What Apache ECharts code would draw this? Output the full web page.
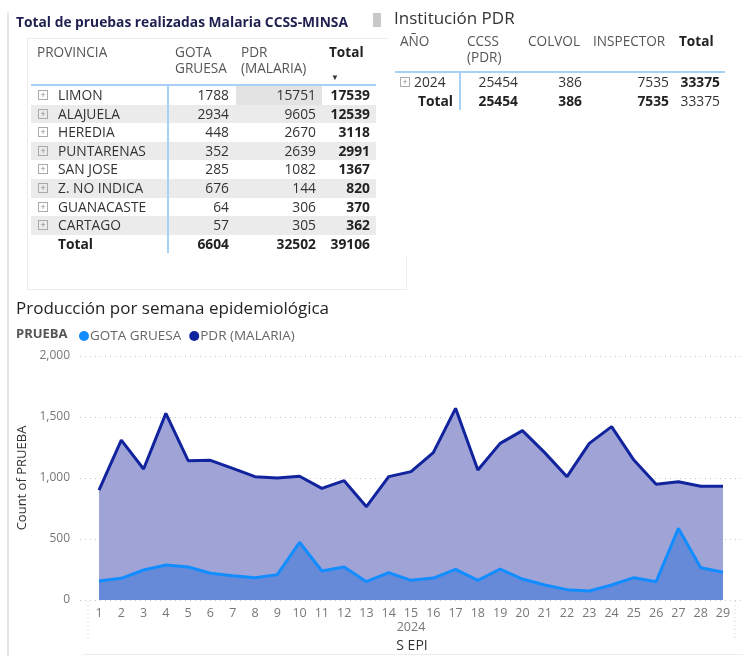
<!DOCTYPE html>
<html>
<head>
<meta charset="utf-8">
<script src="https://cdn.jsdelivr.net/npm/echarts@6/dist/echarts.min.js"></script>
<style>
  body { margin: 0; background: #fff; font-family: 'Open Sans', sans-serif; }
  #page { position: relative; width: 743px; height: 656px; overflow: hidden; }
  #chart { position: absolute; left: 0; top: 0; width: 743px; height: 656px; }
  .abs { position: absolute; white-space: nowrap; }
  .cell { position: absolute; font-size: 13.8px; color: #333; line-height: 18.6px; white-space: nowrap; }
  .r { text-align: right; }
  .b { font-weight: bold; color: #222; }
  .hdr { position: absolute; font-size: 13.6px; color: #555; line-height: 16px; white-space: nowrap; }
  .icon { position: absolute; width: 8px; height: 8px; border: 1px solid #aaa; color: #888;
          font-size: 9px; line-height: 8px; text-align: center; }
</style>
</head>
<body>
<div id="page">
  <div id="chart"></div>
  <div id="tables"></div>
</div>
<script>
// ---- tabla provincias
const provincias = ['LIMON', 'ALAJUELA', 'HEREDIA', 'PUNTARENAS', 'SAN JOSE', 'Z. NO INDICA', 'GUANACASTE', 'CARTAGO'];
const gotaProv = [1788, 2934, 448, 352, 285, 676, 64, 57];
const pdrProv = [15751, 9605, 2670, 2639, 1082, 144, 306, 305];
const totalProv = [17539, 12539, 3118, 2991, 1367, 820, 370, 362];
const totalesProv = [6604, 32502, 39106];

// ---- tabla institucion
const anios = ['2024'];
const instCols = ['CCSS (PDR)', 'COLVOL', 'INSPECTOR'];
const instValores = [25454, 386, 7535];
const instTotal = 33375;

// ---- grafico semanal
const semanas = [1,2,3,4,5,6,7,8,9,10,11,12,13,14,15,16,17,18,19,20,21,22,23,24,25,26,27,28,29];
const gotaGruesa = [156,178,246,287,270,219,199,183,208,473,238,270,150,224,161,180,251,161,254,172,123,85,74,123,183,150,587,265,227];
const pdrMalaria = [901,1311,1074,1530,1142,1145,1079,1011,1000,1014,915,978,765,1011,1052,1208,1571,1066,1284,1388,1208,1011,1284,1421,1147,948,970,932,932];
const yTicks = [0, 500, 1000, 1500, 2000];

const t = document.getElementById('tables');
let html = '';
function box(x, y, w, h, style) {
  html += `<div class="abs" style="left:${x}px;top:${y}px;width:${w}px;height:${h}px;${style}"></div>`;
}
function txt(x, y, s, cls, extra) {
  html += `<div class="${cls}" style="left:${x}px;top:${y}px;${extra || ''}">${s}</div>`;
}
function rtxt(right, y, s, cls) {
  html += `<div class="${cls} r" style="left:${right - 80}px;width:80px;top:${y}px;">${s}</div>`;
}
function icon(x, y) {
  html += `<div class="icon" style="left:${x}px;top:${y}px;">+</div>`;
}

// borde panel izquierdo
box(7, 12, 2, 644, 'background:#e6e6e6;');
box(83, 654, 660, 1, 'background:#ececec;');
// tarjeta tabla
box(27, 38, 380, 252, 'border:1px solid #ececec;box-sizing:border-box;');
txt(16, 13, 'Total de pruebas realizadas Malaria CCSS-MINSA', 'abs',
  'font-size:13.8px;font-weight:bold;color:#1f2050;line-height:18px;');

// encabezado izq
txt(37, 44, 'PROVINCIA', 'hdr');
txt(175, 44, 'GOTA<br>GRUESA', 'hdr');
txt(241, 44, 'PDR<br>(MALARIA)', 'hdr');
txt(329, 44, 'Total', 'hdr', 'font-weight:bold;color:#222;');
txt(331, 71, '&#9660;', 'abs', 'font-size:8px;color:#333;');
box(31, 84, 345, 2, 'background:#a9d1f5;');

const rowH = 18.6;
provincias.forEach((p, i) => {
  const y = 86 + i * rowH;
  if (i % 2 === 1) box(31, y, 345, rowH, 'background:#ebebeb;');
  if (i === 0) box(236, y, 86, rowH, 'background:#e3e3e3;');
  icon(38, y + 4);
  txt(58, y, p, 'cell');
  rtxt(229, y, gotaProv[i], 'cell');
  rtxt(316, y, pdrProv[i], 'cell');
  rtxt(370, y, totalProv[i], 'cell b');
});
const ty = 86 + provincias.length * rowH;
txt(58, ty, 'Total', 'cell b');
rtxt(229, ty, totalesProv[0], 'cell b');
rtxt(316, ty, totalesProv[1], 'cell b');
rtxt(370, ty, totalesProv[2], 'cell b');
box(167, 85, 2, ty + rowH - 85, 'background:#a9d1f5;');

// panel derecho
box(388, 0, 355, 257, 'background:#fff;');
box(373, 13, 8, 14, 'background:#c8c8c8;');
txt(394, 7, 'Institución PDR', 'abs', 'font-size:17px;color:#333;line-height:22px;');
txt(400, 33, 'AÑO', 'hdr');
txt(467, 33, 'CCSS<br>(PDR)', 'hdr');
txt(528, 33, 'COLVOL', 'hdr');
txt(593, 33, 'INSPECTOR', 'hdr');
txt(679, 33, 'Total', 'hdr', 'font-weight:bold;color:#222;');
box(395, 71, 330, 2, 'background:#a9d1f5;');
const instRight = [518, 582, 669];
anios.forEach((a, i) => {
  const y = 73 + i * rowH;
  icon(400, y + 4);
  txt(414, y, a, 'cell');
  instValores.forEach((v, j) => rtxt(instRight[j], y, v, 'cell'));
  rtxt(720, y, instTotal, 'cell b');
});
const iy = 73 + anios.length * rowH;
rtxt(453, iy, 'Total', 'cell b');
instValores.forEach((v, j) => rtxt(instRight[j], iy, v, 'cell b'));
rtxt(720, iy, instTotal, 'cell');
box(459, 72, 2, iy + rowH - 72, 'background:#a9d1f5;');

t.innerHTML = html;

// ---- chart
const chart = echarts.init(document.getElementById('chart'));
const toPairs = (vals) => semanas.map((w, i) => [w, vals[i]]);

chart.setOption({
  animation: false,
  textStyle: { fontFamily: 'Open Sans' },
  title: {
    text: 'Producción por semana epidemiológica',
    left: 11, top: 296,
    textStyle: { fontSize: 17, fontWeight: 'normal', color: '#252423' }
  },
  legend: {
    left: 74, top: 324,
    icon: 'circle', itemWidth: 10, itemHeight: 10, itemGap: 8,
    data: ['GOTA GRUESA', 'PDR (MALARIA)'],
    textStyle: { color: '#666', fontSize: 13.5, padding: [0, 0, 0, -4] }
  },
  grid: { left: 80, right: 0, top: 356, bottom: 56 },
  xAxis: {
    type: 'value',
    min: 0.147, max: 29.897,
    axisLine: { show: false },
    axisTick: { show: false },
    splitLine: { show: false },
    axisLabel: { customValues: semanas, color: '#777', fontSize: 12.5, margin: 7 }
  },
  yAxis: {
    type: 'value',
    min: yTicks[0], max: yTicks[yTicks.length - 1], interval: 500,
    axisLine: { show: false },
    axisTick: { show: false },
    axisLabel: { color: '#777', fontSize: 12, margin: 10 },
    splitLine: { lineStyle: { type: [1, 4], color: '#c8c8c8' } },
    name: 'Count of PRUEBA',
    nameLocation: 'middle', nameGap: 51,
    nameTextStyle: { color: '#333', fontSize: 13 }
  },
  series: [
    {
      name: 'PDR (MALARIA)', type: 'line', data: toPairs(pdrMalaria),
      symbol: 'none', color: '#12239e',
      lineStyle: { width: 3, color: '#12239e' },
      areaStyle: { color: '#9fa3d6', opacity: 1 },
      z: 2
    },
    {
      name: 'GOTA GRUESA', type: 'line', data: toPairs(gotaGruesa),
      symbol: 'none', color: '#118dff',
      lineStyle: { width: 3, color: '#118dff' },
      areaStyle: { color: '#6689d8', opacity: 1 },
      z: 3
    }
  ],
  graphic: [
    { type: 'text', left: 16, top: 328, style: { text: 'PRUEBA', fontSize: 13, fontWeight: 'bold', fill: '#555', fontFamily: 'Open Sans' } },
    { type: 'text', x: 411, y: 627, style: { text: '2024', fontSize: 12.5, fill: '#777', align: 'center', verticalAlign: 'middle', fontFamily: 'Open Sans' } },
    { type: 'text', x: 412, y: 646, style: { text: 'S EPI', fontSize: 14, fill: '#333', align: 'center', verticalAlign: 'middle', fontFamily: 'Open Sans' } },
    { type: 'line', shape: { x1: 88, y1: 601, x2: 88, y2: 638 }, style: { stroke: '#cfcfcf', lineDash: [1, 3] } },
    { type: 'line', shape: { x1: 735, y1: 601, x2: 735, y2: 638 }, style: { stroke: '#cfcfcf', lineDash: [1, 3] } }
  ]
});
</script>
</body>
</html>
